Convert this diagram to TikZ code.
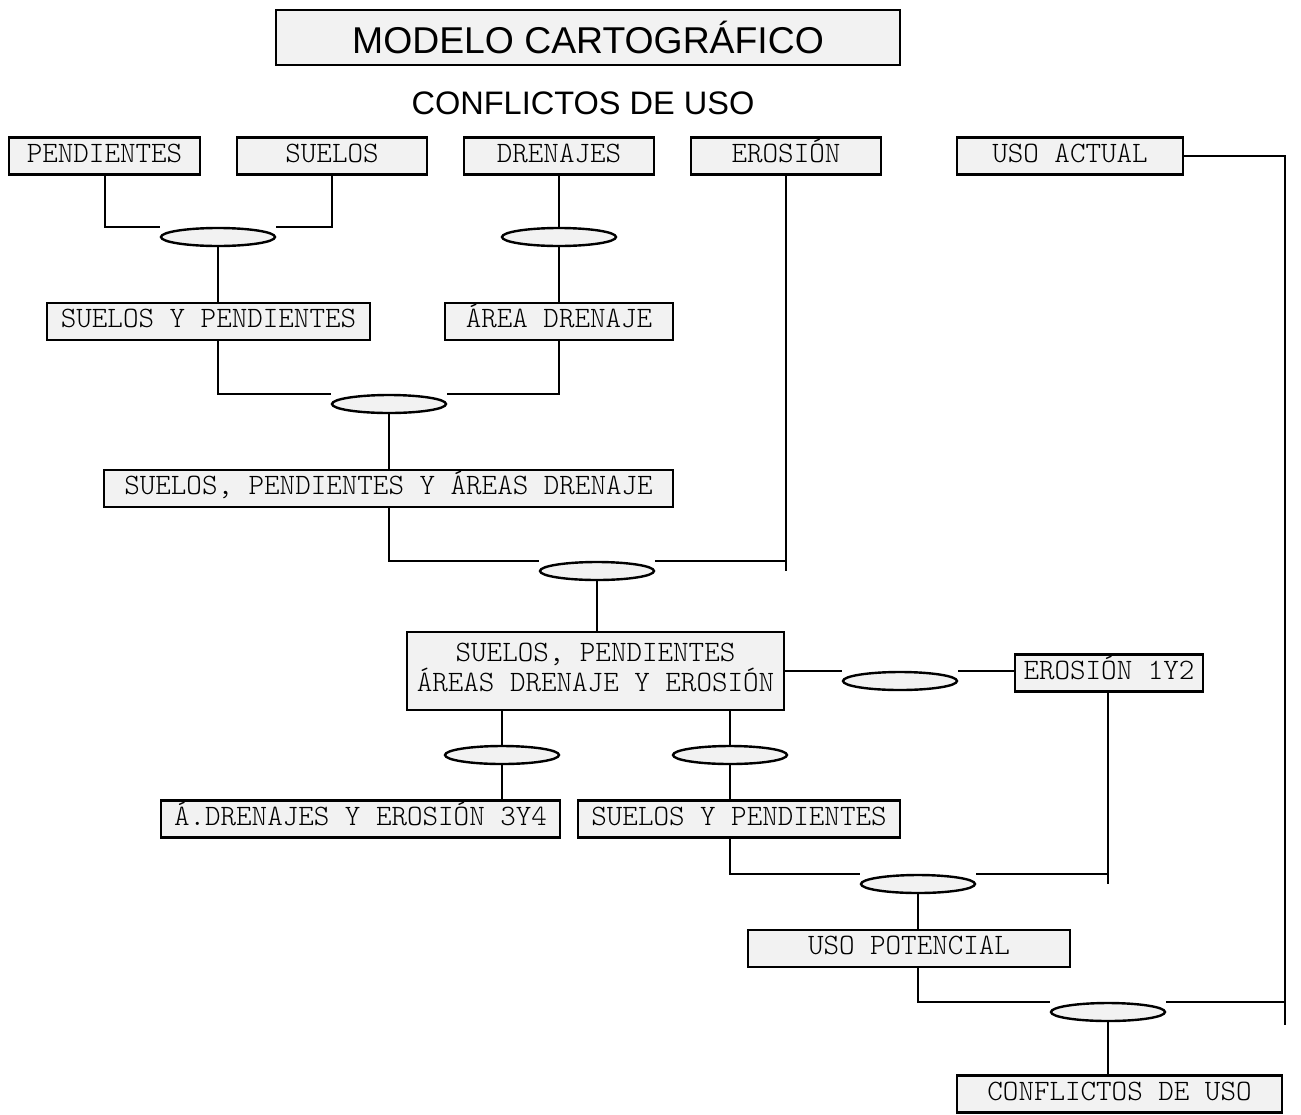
\documentclass[tikz,border=0pt]{standalone}
\usepackage{fontspec}
\setmainfont{Liberation Sans}
\newfontfamily\courierfont{Latin Modern Mono Light}
\usetikzlibrary{shapes.geometric}
\definecolor{MapaFill}{HTML}{F2F2F2}
\definecolor{MapaLine}{HTML}{000000}

\begin{document}
\begin{tikzpicture}[x=0.75pt,y=-0.75pt,
    capa/.style={draw=MapaLine,line width=1.8pt,fill=MapaFill,inner sep=0pt,
      minimum height=27.75pt,text height=12pt,text depth=3pt,
      font=\courierfont\fontsize{22.2}{22.5}\selectfont,align=center},
    cruce/.style={ellipse,draw=MapaLine,line width=1.8pt,fill=MapaFill,inner sep=0pt,
      minimum width=85.5pt,minimum height=13.5pt},
    enlace/.style={draw=MapaLine,line width=1.5pt}]
    \useasboundingbox (0,0) rectangle (1301,1114);

    \node[draw=MapaLine,line width=1.8pt,fill=MapaFill,minimum width=468pt,minimum height=41.25pt,
      font=\fontsize{28}{32}\selectfont] (titulo) at (588,37.5) {MODELO CARTOGRÁFICO};
    \node[font=\fontsize{24.4}{28}\selectfont] (subtitulo) at (583,103) {CONFLICTOS DE USO};

    % mapas de entrada
    \node[capa,minimum width=143.25pt] (pend) at (104.5,156) {PENDIENTES};
    \node[capa,minimum width=142.5pt] (suel) at (332,156) {SUELOS};
    \node[capa,minimum width=142.5pt] (dren) at (559,156) {DRENAJES};
    \node[capa,minimum width=142.5pt] (eros) at (786,156) {EROSIÓN};
    \node[capa,minimum width=169.5pt] (usoact) at (1070,156) {USO ACTUAL};

    % mapas intermedios
    \node[capa,minimum width=242.25pt] (sypA) at (208.5,321.5) {SUELOS Y PENDIENTES};
    \node[capa,minimum width=171pt] (area) at (559,321.5) {ÁREA DRENAJE};
    \node[capa,minimum width=426.75pt] (spa) at (388.5,488.5) {SUELOS, PENDIENTES Y ÁREAS DRENAJE};
    \node[capa,minimum width=282.75pt,minimum height=58.5pt,text height=33pt,text depth=3pt] (spae) at (595.5,671)
      {SUELOS, PENDIENTES\\ÁREAS DRENAJE Y EROSIÓN};
    \node[capa,minimum width=141pt] (ero12) at (1109,673) {EROSIÓN 1Y2};
    \node[capa,minimum width=299.25pt] (ade34) at (360.5,819) {Á.DRENAJES Y EROSIÓN 3Y4};
    \node[capa,minimum width=241.5pt] (sypB) at (739,819) {SUELOS Y PENDIENTES};
    \node[capa,minimum width=241.5pt] (usopot) at (909,948.5) {USO POTENCIAL};
    \node[capa,minimum width=243.75pt] (confl) at (1119.5,1094) {CONFLICTOS DE USO};

    % cruces
    \node[cruce] (j1) at (218,237) {};
    \node[cruce] (j2) at (559,237) {};
    \node[cruce] (j3) at (389,404) {};
    \node[cruce] (j4) at (597,571) {};
    \node[cruce] (j5) at (900,681) {};
    \node[cruce] (j6) at (502,755) {};
    \node[cruce] (j7) at (730,755) {};
    \node[cruce] (j8) at (918,884) {};
    \node[cruce] (j9) at (1108,1012) {};
    \coordinate (borde) at (1285,1025);

    \draw[enlace] (pend.south) |- (j1.west |- j1.north);
    \draw[enlace] (suel.south) |- (j1.east |- j1.north);
    \draw[enlace] (j1.south) -- (j1.south |- sypA.north);
    \draw[enlace] (dren.south) -- (j2.north);
    \draw[enlace] (j2.south) -- (area.north);

    \draw[enlace] (j1 |- sypA.south) |- (j3.west |- j3.north);
    \draw[enlace] (area.south) |- (j3.east |- j3.north);
    \draw[enlace] (j3.south) -- (j3.south |- spa.north);

    \draw[enlace] (j3 |- spa.south) |- (j4.west |- j4.north);
    \draw[enlace] (j4.east |- j4.north) -- (eros.south |- j4.north);
    \draw[enlace] (eros.south) -- (eros.south |- j4.center);
    \draw[enlace] (j4.south) -- (j4.south |- spae.north);

    \draw[enlace] (spae.east) -- (j5.west |- spae.east);
    \draw[enlace] (j5.east |- spae.east) -- (ero12.west |- spae.east);

    \draw[enlace] (j6 |- spae.south) -- (j6.north);
    \draw[enlace] (j6.south) -- (j6.south |- ade34.north);
    \draw[enlace] (j7 |- spae.south) -- (j7.north);
    \draw[enlace] (j7.south) -- (j7.south |- sypB.north);

    \draw[enlace] (j7 |- sypB.south) |- (j8.west |- j8.north);
    \draw[enlace] (j8.east |- j8.north) -- (j9 |- j8.north);
    \draw[enlace] (j9 |- ero12.south) -- (j9 |- j8.center);
    \draw[enlace] (j8.south) -- (j8.south |- usopot.north);

    \draw[enlace] (j8 |- usopot.south) |- (j9.west |- j9.north);
    \draw[enlace] (usoact.east) -| (borde);
    \draw[enlace] (j9.east |- j9.north) -- (borde |- j9.north);
    \draw[enlace] (j9.south) -- (j9.south |- confl.north);
  \end{tikzpicture}
\end{document}
